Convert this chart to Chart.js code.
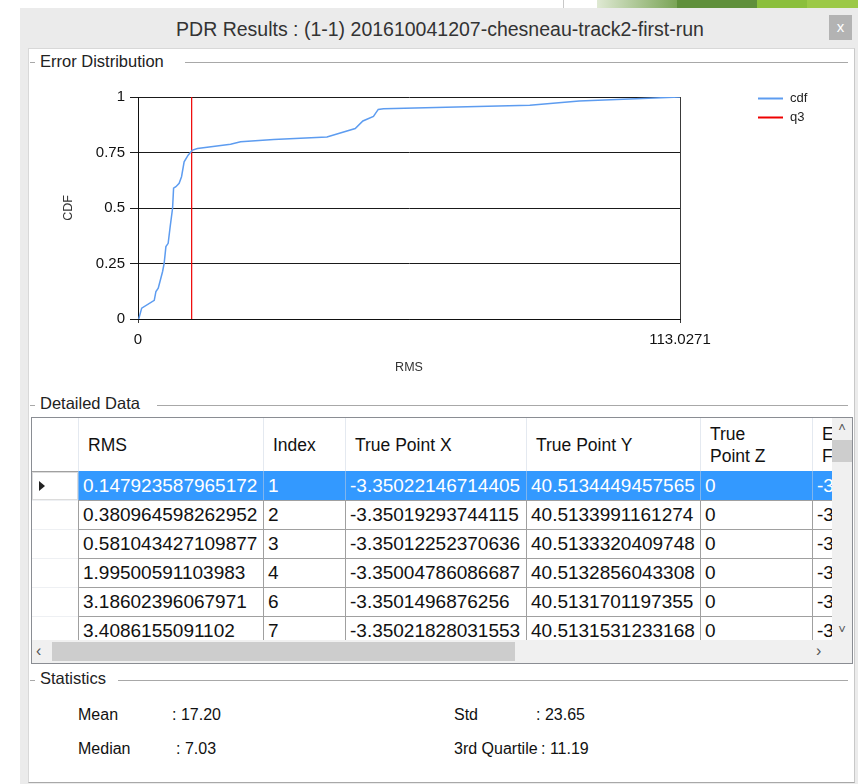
<!DOCTYPE html>
<html>
<head>
<meta charset="utf-8">
<script src="https://cdn.jsdelivr.net/npm/chart.js@4.4.1/dist/chart.umd.min.js"></script>
<style>
html,body{margin:0;padding:0;background:#fff;width:858px;height:784px;overflow:hidden;font-family:"Liberation Sans",Arial,sans-serif;color:#1a1a1a;}
.a{position:absolute;}
#win{left:20px;top:8px;width:838px;height:776px;background:#ebebeb;}
#panel{left:28px;top:48px;width:825px;height:733px;background:#fff;border-left:1px solid #d8d8d8;border-top:1px solid #d8d8d8;border-bottom:1px solid #a8a8a8;border-right:1px solid #c8c8c8;}
#title{left:20px;top:17px;width:840px;text-align:center;font-size:19.5px;color:#333;line-height:24px;}
#close{left:829px;top:15px;width:23px;height:25px;background:#b3b3b3;color:#fff;font-size:15px;line-height:24px;text-align:center;}
.glabel{font-size:16.5px;line-height:18px;color:#222;}
.gline{height:1px;background:#a8a8a8;}
.gdash{height:1px;width:5px;background:#a8a8a8;}
#tbl{left:31px;top:417px;width:820px;height:245px;border:1px solid #8a8d93;background:#fff;overflow:hidden;}
.cell{position:absolute;overflow:hidden;white-space:nowrap;font-size:19px;line-height:29px;padding-left:4px;box-sizing:border-box;}
.hcell{position:absolute;overflow:hidden;white-space:nowrap;font-size:17.5px;line-height:22px;padding-left:9px;box-sizing:border-box;display:flex;align-items:center;color:#111;}
.stat{font-size:16px;line-height:20px;color:#111;}
</style>
</head>
<body>
<!-- desktop decoration -->
<div class="a" style="left:563px;top:0;width:1px;height:8px;background:#c8c8c8;"></div>
<div class="a" style="left:597px;top:0;width:80px;height:8px;background:linear-gradient(90deg,#dfe9d3,#7aa456);"></div>
<div class="a" style="left:677px;top:0;width:80px;height:8px;background:#5f8f3b;"></div>
<div class="a" style="left:757px;top:0;width:50px;height:8px;background:#8bbf3c;"></div>
<div class="a" style="left:807px;top:0;width:51px;height:8px;background:#9cc947;"></div>

<div id="win" class="a"></div>
<div id="title" class="a">PDR Results : (1-1) 201610041207-chesneau-track2-first-run</div>
<div id="close" class="a">x</div>
<div id="panel" class="a"></div>

<!-- Error Distribution group -->
<div class="a gdash" style="left:30px;top:62px;"></div>
<div class="a glabel" style="left:40px;top:52px;">Error Distribution</div>
<div class="a gline" style="left:185px;top:62px;width:663px;"></div>
<canvas id="chart" class="a" width="820" height="320" style="left:30px;top:70px;"></canvas>

<!-- Detailed Data group -->
<div class="a gdash" style="left:30px;top:405px;"></div>
<div class="a glabel" style="left:40px;top:394px;">Detailed Data</div>
<div class="a gline" style="left:157px;top:405px;width:691px;"></div>
<div id="tbl" class="a"></div>

<!-- Statistics group -->
<div class="a gdash" style="left:30px;top:680px;"></div>
<div class="a glabel" style="left:40px;top:669px;">Statistics</div>
<div class="a gline" style="left:118px;top:680px;width:730px;"></div>
<div id="stats"></div>

<script>
// ---------- chart data ----------
const rmsValues = [0.15, 0.77, 3.39, 3.74, 4.22, 5.13, 5.46, 5.82, 6.29, 6.71, 7.21, 7.42, 7.9, 8.58, 9.08, 9.62, 10.45, 11.36, 12.4, 19.3, 21.4, 28.3, 39.4, 45.3, 46.9, 49.1, 50.1, 51.2, 81.7, 92.0, 113.0271];
const cdfValues = [0, 0.049, 0.084, 0.124, 0.139, 0.214, 0.252, 0.326, 0.341, 0.416, 0.499, 0.589, 0.596, 0.611, 0.641, 0.708, 0.738, 0.761, 0.768, 0.787, 0.798, 0.809, 0.820, 0.858, 0.892, 0.913, 0.944, 0.947, 0.963, 0.982, 1.0];
const q3Value = 11.19;
const xMin = 0;
const xMax = 113.0271;
const xTickValues = [0, 113.0271];
const xTickLabels = ['0', '113.0271'];
const yTickValues = [0, 0.25, 0.5, 0.75, 1];
const yTickLabels = ['0', '0.25', '0.5', '0.75', '1'];
const seriesNames = ['cdf', 'q3'];

// ---------- table text ----------
const colHeaders = ['RMS', 'Index', 'True Point X', 'True Point Y', 'True<br>Point Z', 'E<br>F'];
const colRMS = ['0.147923587965172','0.380964598262952','0.581043427109877','1.99500591103983','3.18602396067971','3.4086155091102'];
const colIndex = ['1','2','3','4','6','7'];
const colX = ['-3.35022146714405','-3.35019293744115','-3.35012252370636','-3.35004786086687','-3.3501496876256','-3.35021828031553'];
const colY = ['40.5134449457565','40.5133991161274','40.5133320409748','40.5132856043308','40.5131701197355','40.5131531233168'];
const colZ = ['0','0','0','0','0','0'];
const colE = ['-3','-3','-3','-3','-3','-3'];

// ---------- statistics ----------
const statLabels = ['Mean', 'Median', 'Std', '3rd Quartile'];
const statValues = [': 17.20', ': 7.03', ': 23.65', ': 11.19'];

// build table
(function(){
  const tbl = document.getElementById('tbl');
  const colEdges = [0, 46, 231, 313, 494, 668, 780, 900]; // relative to table interior left
  const headH = 53, rowH = 29;
  const columns = [colRMS, colIndex, colX, colY, colZ, colE];
  let html = '';
  for (let c = 0; c < colHeaders.length; c++) {
    const l = colEdges[c+1], w = colEdges[c+2]-colEdges[c+1];
    html += `<div class="hcell" style="left:${l}px;top:0;width:${w}px;height:${headH}px;border-left:1px solid #e4e9f0;">${colHeaders[c]}</div>`;
  }
  html += `<div class="a" style="left:0;top:${headH}px;width:900px;height:1px;background:#a0a0a0;"></div>`;
  for (let r = 0; r < colRMS.length; r++) {
    const top = headH + 1 + r*rowH;
    const sel = r === 0;
    html += `<div class="a" style="left:0;top:${top}px;width:46px;height:${rowH-1}px;${sel?'background:#fff;box-shadow:inset 0 0 0 1px #dcdcdc;':''}border-bottom:1px solid #eef0f3;"></div>`;
    if (sel) html += `<div class="a" style="left:7px;top:${top+9}px;width:0;height:0;border-top:5px solid transparent;border-bottom:5px solid transparent;border-left:6px solid #222;"></div>`;
    if (sel) html += `<div class="a" style="left:46px;top:${top-1}px;width:900px;height:${rowH}px;background:#3399ff;"></div>`;
    for (let c = 0; c < columns.length; c++) {
      const l = colEdges[c+1], w = colEdges[c+2]-colEdges[c+1];
      html += `<div class="cell" style="left:${l}px;top:${top-1}px;width:${w}px;height:${rowH}px;color:${sel?'#fff':'#111'};border-left:1px solid ${sel?'#7fb5ee':'#a0a0a0'};">${columns[c][r]}</div>`;
    }
    html += `<div class="a" style="left:46px;top:${top+rowH-1}px;width:900px;height:1px;background:#a0a0a0;"></div>`;
  }
  html += `<div class="a" style="left:800px;top:0;width:20px;height:222px;background:#f0f0f0;"></div>`;
  html += `<div class="a" style="left:800px;top:22px;width:20px;height:22px;background:#cdcdcd;"></div>`;
  html += `<div class="a" style="left:800px;top:2px;width:20px;text-align:center;font-size:13px;color:#555;">&#708;</div>`;
  html += `<div class="a" style="left:800px;top:204px;width:20px;text-align:center;font-size:13px;color:#555;">&#709;</div>`;
  html += `<div class="a" style="left:0;top:222px;width:820px;height:23px;background:#f0f0f0;"></div>`;
  html += `<div class="a" style="left:20px;top:224px;width:463px;height:19px;background:#cdcdcd;"></div>`;
  html += `<div class="a" style="left:4px;top:224px;font-size:16px;color:#555;">&#8249;</div>`;
  html += `<div class="a" style="left:784px;top:224px;font-size:16px;color:#555;">&#8250;</div>`;
  tbl.innerHTML = html;
})();

// statistics
(function(){
  const pos = [[78,172,705],[78,176,739],[454,536,705],[454,541,739]];
  let html = '';
  for (let i = 0; i < statLabels.length; i++) {
    const [lx, vx, ty] = pos[i];
    html += `<div class="a stat" style="left:${lx}px;top:${ty}px;">${statLabels[i]}</div>`;
    html += `<div class="a stat" style="left:${vx}px;top:${ty}px;">${statValues[i]}</div>`;
  }
  document.getElementById('stats').innerHTML = html;
})();

// ---------- chart ----------
const FONT = '"Liberation Sans", Arial, sans-serif';
const sideLegend = {
  id: 'sideLegend',
  afterDraw(chart) {
    const ctx = chart.ctx, ca = chart.chartArea;
    ctx.save();
    ctx.font = '13px ' + FONT;
    ctx.textBaseline = 'middle';
    ctx.fillStyle = '#222';
    chart.data.datasets.forEach((ds, i) => {
      const y = Math.round(ca.top + 1 + i * 19) + 0.5;
      const x0 = ca.right + 78;
      ctx.strokeStyle = ds.borderColor;
      ctx.lineWidth = 2;
      ctx.beginPath(); ctx.moveTo(x0, y); ctx.lineTo(x0 + 25, y); ctx.stroke();
      ctx.fillText(ds.label, x0 + 32, y);
    });
    ctx.restore();
  }
};

new Chart(document.getElementById('chart'), {
  type: 'line',
  data: {
    datasets: [
      {
        label: seriesNames[0],
        data: rmsValues.map((x, i) => ({x: x, y: cdfValues[i]})),
        borderColor: '#5d9cf0',
        borderWidth: 1.5,
        pointRadius: 0,
        tension: 0,
        fill: false
      },
      {
        label: seriesNames[1],
        data: [{x: q3Value, y: 0}, {x: q3Value, y: 1}],
        borderColor: '#ee0000',
        borderWidth: 1.2,
        pointRadius: 0,
        fill: false
      }
    ]
  },
  options: {
    responsive: false,
    animation: false,
    events: [],
    layout: {padding: {top: 27, right: 170, left: 0, bottom: 0}},
    plugins: {legend: {display: false}, tooltip: {enabled: false}},
    scales: {
      x: {
        type: 'linear',
        min: xMin,
        max: xMax,
        afterBuildTicks: s => { s.ticks = xTickValues.map(v => ({value: v})); },
        afterFit: s => { s.height = 71; },
        ticks: {
          callback: (v) => xTickLabels[xTickValues.indexOf(v)],
          font: {size: 15, family: FONT},
          color: '#111',
          padding: 8,
          maxRotation: 0,
          autoSkip: false
        },
        grid: {color: '#3a3a3a', lineWidth: 1, tickLength: 4},
        border: {display: true, color: '#111', width: 1},
        title: {display: true, text: 'RMS', font: {size: 12.5, family: FONT}, color: '#333', padding: {top: 0, bottom: 15}}
      },
      y: {
        min: 0,
        max: 1,
        afterBuildTicks: s => { s.ticks = yTickValues.map(v => ({value: v})); },
        afterFit: s => { s.width = 108; },
        ticks: {
          callback: (v) => yTickLabels[yTickValues.indexOf(v)],
          font: {size: 15, family: FONT},
          color: '#111',
          padding: 5
        },
        grid: {color: '#1a1a1a', lineWidth: 1, tickLength: 8},
        border: {display: true, color: '#111', width: 1},
        title: {display: true, text: 'CDF', font: {size: 12.5, family: FONT}, color: '#333', padding: {top: 31, bottom: 0}}
      }
    }
  },
  plugins: [sideLegend]
});
</script>
</body>
</html>
